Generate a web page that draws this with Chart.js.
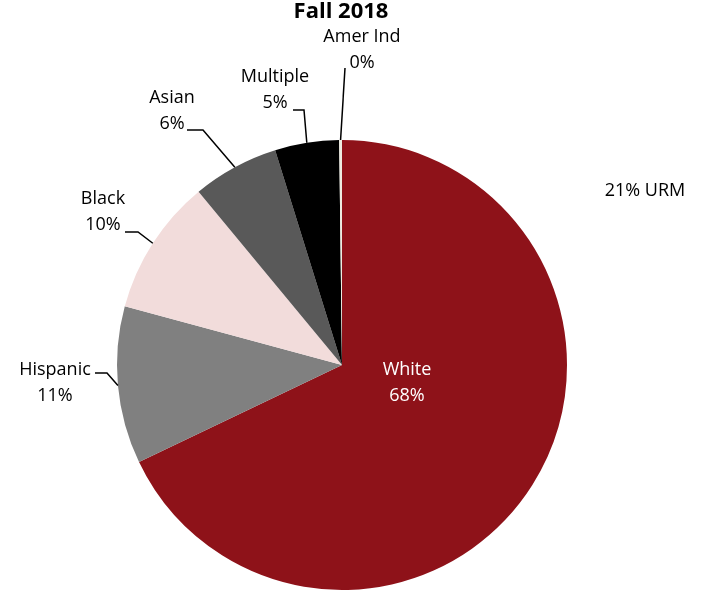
<!DOCTYPE html>
<html>
<head>
<meta charset="utf-8">
<script src="https://cdn.jsdelivr.net/npm/chart.js@4"></script>
<style>
  html, body { margin: 0; padding: 0; background: #fff; }
  #wrap { width: 704px; height: 592px; }
</style>
</head>
<body>
<div id="wrap"><canvas id="myChart" width="704" height="592"></canvas></div>
<script>
const groups = ["White", "Hispanic", "Black", "Asian", "Multiple", "Amer Ind"];
const shares = [67.9, 11.3, 9.8, 6.2, 4.6, 0.2];
const shareLabels = ["68%", "11%", "10%", "6%", "5%", "0%"];
const sliceColors = ["#8E1219", "#808080", "#F2DCDB", "#595959", "#000000", "#EEECE1"];
const chartTitle = "Fall 2018";
const urmNote = "21% URM";

// where each label sits (text centre of the name line) and where its leader elbow is
const labelSpots = [
  { x: 407, y: 370, inside: true },
  { x: 55, y: 370, elbow: [[95, 373], [107, 373]] },
  { x: 103, y: 199, elbow: [[125, 232], [138, 232]] },
  { x: 172, y: 98, elbow: [[187, 130], [203, 130]] },
  { x: 275, y: 77, elbow: [[293, 110], [304, 110]] },
  { x: 362, y: 37, elbow: [[345, 68]] }
];

const FONT = "'Open Sans', 'DejaVu Sans', sans-serif";

const labelPlugin = {
  id: "pieLabels",
  afterDraw(chart) {
    const ctx = chart.ctx;
    const arcs = chart.getDatasetMeta(0).data;
    ctx.save();
    ctx.textAlign = "center";
    ctx.textBaseline = "middle";

    // title
    ctx.fillStyle = "#000";
    ctx.font = "bold 22px " + FONT;
    ctx.fillText(chartTitle, 341, 12);

    ctx.font = "18px " + FONT;
    arcs.forEach((arc, i) => {
      const spot = labelSpots[i];
      ctx.fillStyle = spot.inside ? "#fff" : "#000";
      ctx.fillText(groups[i], spot.x, spot.y);
      ctx.fillText(shareLabels[i], spot.x, spot.y + 26);
      if (spot.elbow) {
        const p = arc.getProps(["x", "y", "startAngle", "endAngle", "outerRadius"], true);
        const mid = (p.startAngle + p.endAngle) / 2;
        const ex = p.x + Math.cos(mid) * p.outerRadius;
        const ey = p.y + Math.sin(mid) * p.outerRadius;
        ctx.strokeStyle = "#000";
        ctx.lineWidth = 1.5;
        ctx.beginPath();
        ctx.moveTo(spot.elbow[0][0], spot.elbow[0][1]);
        for (let k = 1; k < spot.elbow.length; k++) ctx.lineTo(spot.elbow[k][0], spot.elbow[k][1]);
        ctx.lineTo(ex, ey);
        ctx.stroke();
      }
    });

    ctx.fillStyle = "#000";
    ctx.fillText(urmNote, 645, 191);
    ctx.restore();
  }
};

new Chart(document.getElementById("myChart").getContext("2d"), {
  type: "pie",
  data: {
    labels: groups,
    datasets: [{
      data: shares,
      backgroundColor: sliceColors,
      borderWidth: 0
    }]
  },
  options: {
    responsive: false,
    animation: false,
    layout: { padding: { left: 117, right: 137, top: 140, bottom: 2 } },
    plugins: {
      legend: { display: false },
      tooltip: { enabled: false },
      title: { display: false }
    }
  },
  plugins: [labelPlugin]
});
</script>
</body>
</html>
